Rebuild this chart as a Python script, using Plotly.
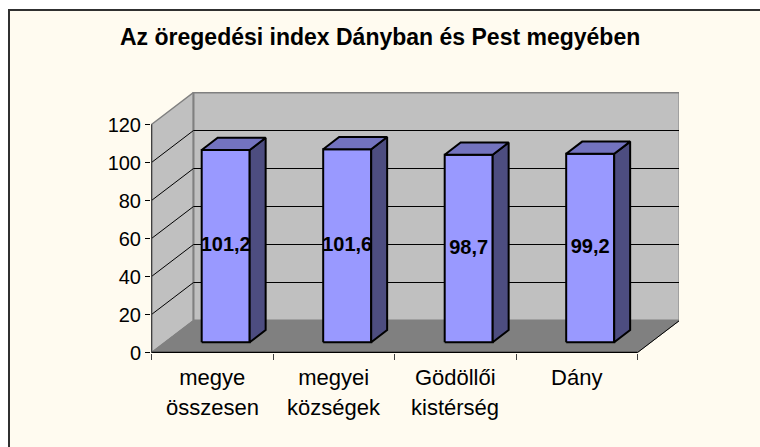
import plotly.graph_objects as go

title = "Az öregedési index Dányban és Pest megyében"
categories_line1 = ["megye", "megyei", "Gödöllői", "Dány"]
categories_line2 = ["összesen", "községek", "kistérség", ""]
values = [101.2, 101.6, 98.7, 99.2]
value_labels = ["101,2", "101,6", "98,7", "99,2"]
y_ticks = [0, 20, 40, 60, 80, 100, 120]
grid_values = [20, 40, 60, 80, 100]

# oblique projection of the Excel-style 3D box (axis units per unit of depth)
W, H = 760, 447
L, R, T, B = 151, 679, 92, 353
CAT_PX = 121.5
VAL_PX = 1.9
DX = 42 / CAT_PX
DY = 32 / VAL_PX
N = len(values)
BAR_W = 48 / CAT_PX
D0, D1 = 0.32, 0.70

BG, WALL, FLOOR = "#FFFBF0", "#C0C0C0", "#808080"
FRONT, TOP, SIDE = "#9999FF", "#7373BF", "#4D4D80"
X_LOW = -0.5 / CAT_PX   # half-pixel offset keeps 1px lines crisp
Y_LOW = -0.5 / VAL_PX


def P(c, v, d=0.0):
    return c + d * DX, v + d * DY


def poly(points, fill=None, line="black", width=1.0):
    xs, ys = zip(*(points + ([points[0]] if fill else [])))
    return go.Scatter(
        x=xs, y=ys, mode="lines", fill="toself" if fill else None,
        fillcolor=fill, line=dict(color=line, width=width),
        hoverinfo="skip", showlegend=False, cliponaxis=False,
    )


fig = go.Figure()
vmax = y_ticks[-1]
fig.add_trace(poly([P(0, 0), P(0, vmax), P(0, vmax, 1), P(0, 0, 1)], WALL, FLOOR, 1.5))
fig.add_trace(poly([P(0, 0, 1), P(0, vmax, 1), P(N, vmax, 1), P(N, 0, 1)], WALL, FLOOR, 2))
fig.add_trace(poly([P(0, 0), P(N, 0), P(N, 0, 1), P(0, 0, 1)], FLOOR, FLOOR, 1))
for g in grid_values:
    fig.add_trace(poly([P(0, g), P(0, g, 1), P(N, g, 1)], None, "black", 1))
fig.add_trace(poly([P(N, 0), P(N, 0, 1)], None, "black", 1))
fig.add_trace(poly([P(0, 0), P(N, 0)], None, "black", 1.5))
fig.add_trace(poly([P(0, 0), P(0, vmax)], None, "#404040", 1.5))

for i, v in enumerate(values):
    a, b = i + 0.5 - BAR_W / 2, i + 0.5 + BAR_W / 2
    fig.add_trace(poly([P(a, 0, D0), P(b, 0, D0), P(b, v, D0), P(a, v, D0)], FRONT, "black", 2))
    fig.add_trace(poly([P(b, 0, D0), P(b, 0, D1), P(b, v, D1), P(b, v, D0)], SIDE, "black", 2))
    fig.add_trace(poly([P(a, v, D0), P(b, v, D0), P(b, v, D1), P(a, v, D1)], TOP, "black", 2))

lx, ly = zip(*[P(i + 0.5, v / 2, D0) for i, v in enumerate(values)])
fig.add_trace(go.Scatter(
    x=lx, y=ly, mode="text", text=value_labels, textposition="middle center",
    textfont=dict(family="Liberation Sans", size=20, color="black", weight="bold"),
    hoverinfo="skip", showlegend=False, cliponaxis=False,
))

annotations = [
    dict(text=title, xref="paper", yref="paper",
         x=(380 - L) / (R - L), y=(B - 37) / (B - T), xanchor="center", yanchor="middle",
         showarrow=False, font=dict(family="Liberation Sans", size=23, color="black", weight="bold"))
]
for i, t in enumerate(categories_line2):
    if t:
        annotations.append(dict(
            text=t, xref="x", yref="paper", x=i + 0.5, y=(B - 407) / (B - T),
            xanchor="center", yanchor="middle", showarrow=False,
            font=dict(family="Liberation Sans", size=22, color="black")))

fig.update_layout(
    width=W, height=H, autosize=False,
    margin=dict(l=L, r=W - R, t=T, b=H - B),
    paper_bgcolor="white", plot_bgcolor=BG, showlegend=False,
    annotations=annotations,
    xaxis=dict(
        range=[X_LOW, X_LOW + (R - L) / CAT_PX], showgrid=False, zeroline=False, showline=False,
        tickmode="array", tickvals=[i + 0.5 for i in range(N)], ticktext=categories_line1,
        ticks="", ticklabelstandoff=9,
        tickfont=dict(family="Liberation Sans", size=22, color="black"),
        minor=dict(tickmode="array", tickvals=list(range(N + 1)), ticks="outside",
                   ticklen=6, tickcolor="#404040", tickwidth=1),
    ),
    yaxis=dict(
        range=[Y_LOW, Y_LOW + (B - T) / VAL_PX], showgrid=False, zeroline=False, showline=False,
        tickmode="array", tickvals=y_ticks, ticktext=[str(t) for t in y_ticks],
        ticks="outside", ticklen=5, tickcolor="black", tickwidth=1,
        tickfont=dict(family="Liberation Sans", size=20, color="black"),
    ),
    shapes=[dict(
        type="rect", xref="paper", yref="paper", layer="below",
        x0=(9 - L) / (R - L), x1=(W + 20 - L) / (R - L),
        y0=(B - (H + 20)) / (B - T), y1=(B - 10) / (B - T),
        line=dict(color="#303030", width=2), fillcolor=BG,
    )],
)

fig.write_html("out.html", config={"displayModeBar": False},
               post_script="document.body.style.margin='0';")
